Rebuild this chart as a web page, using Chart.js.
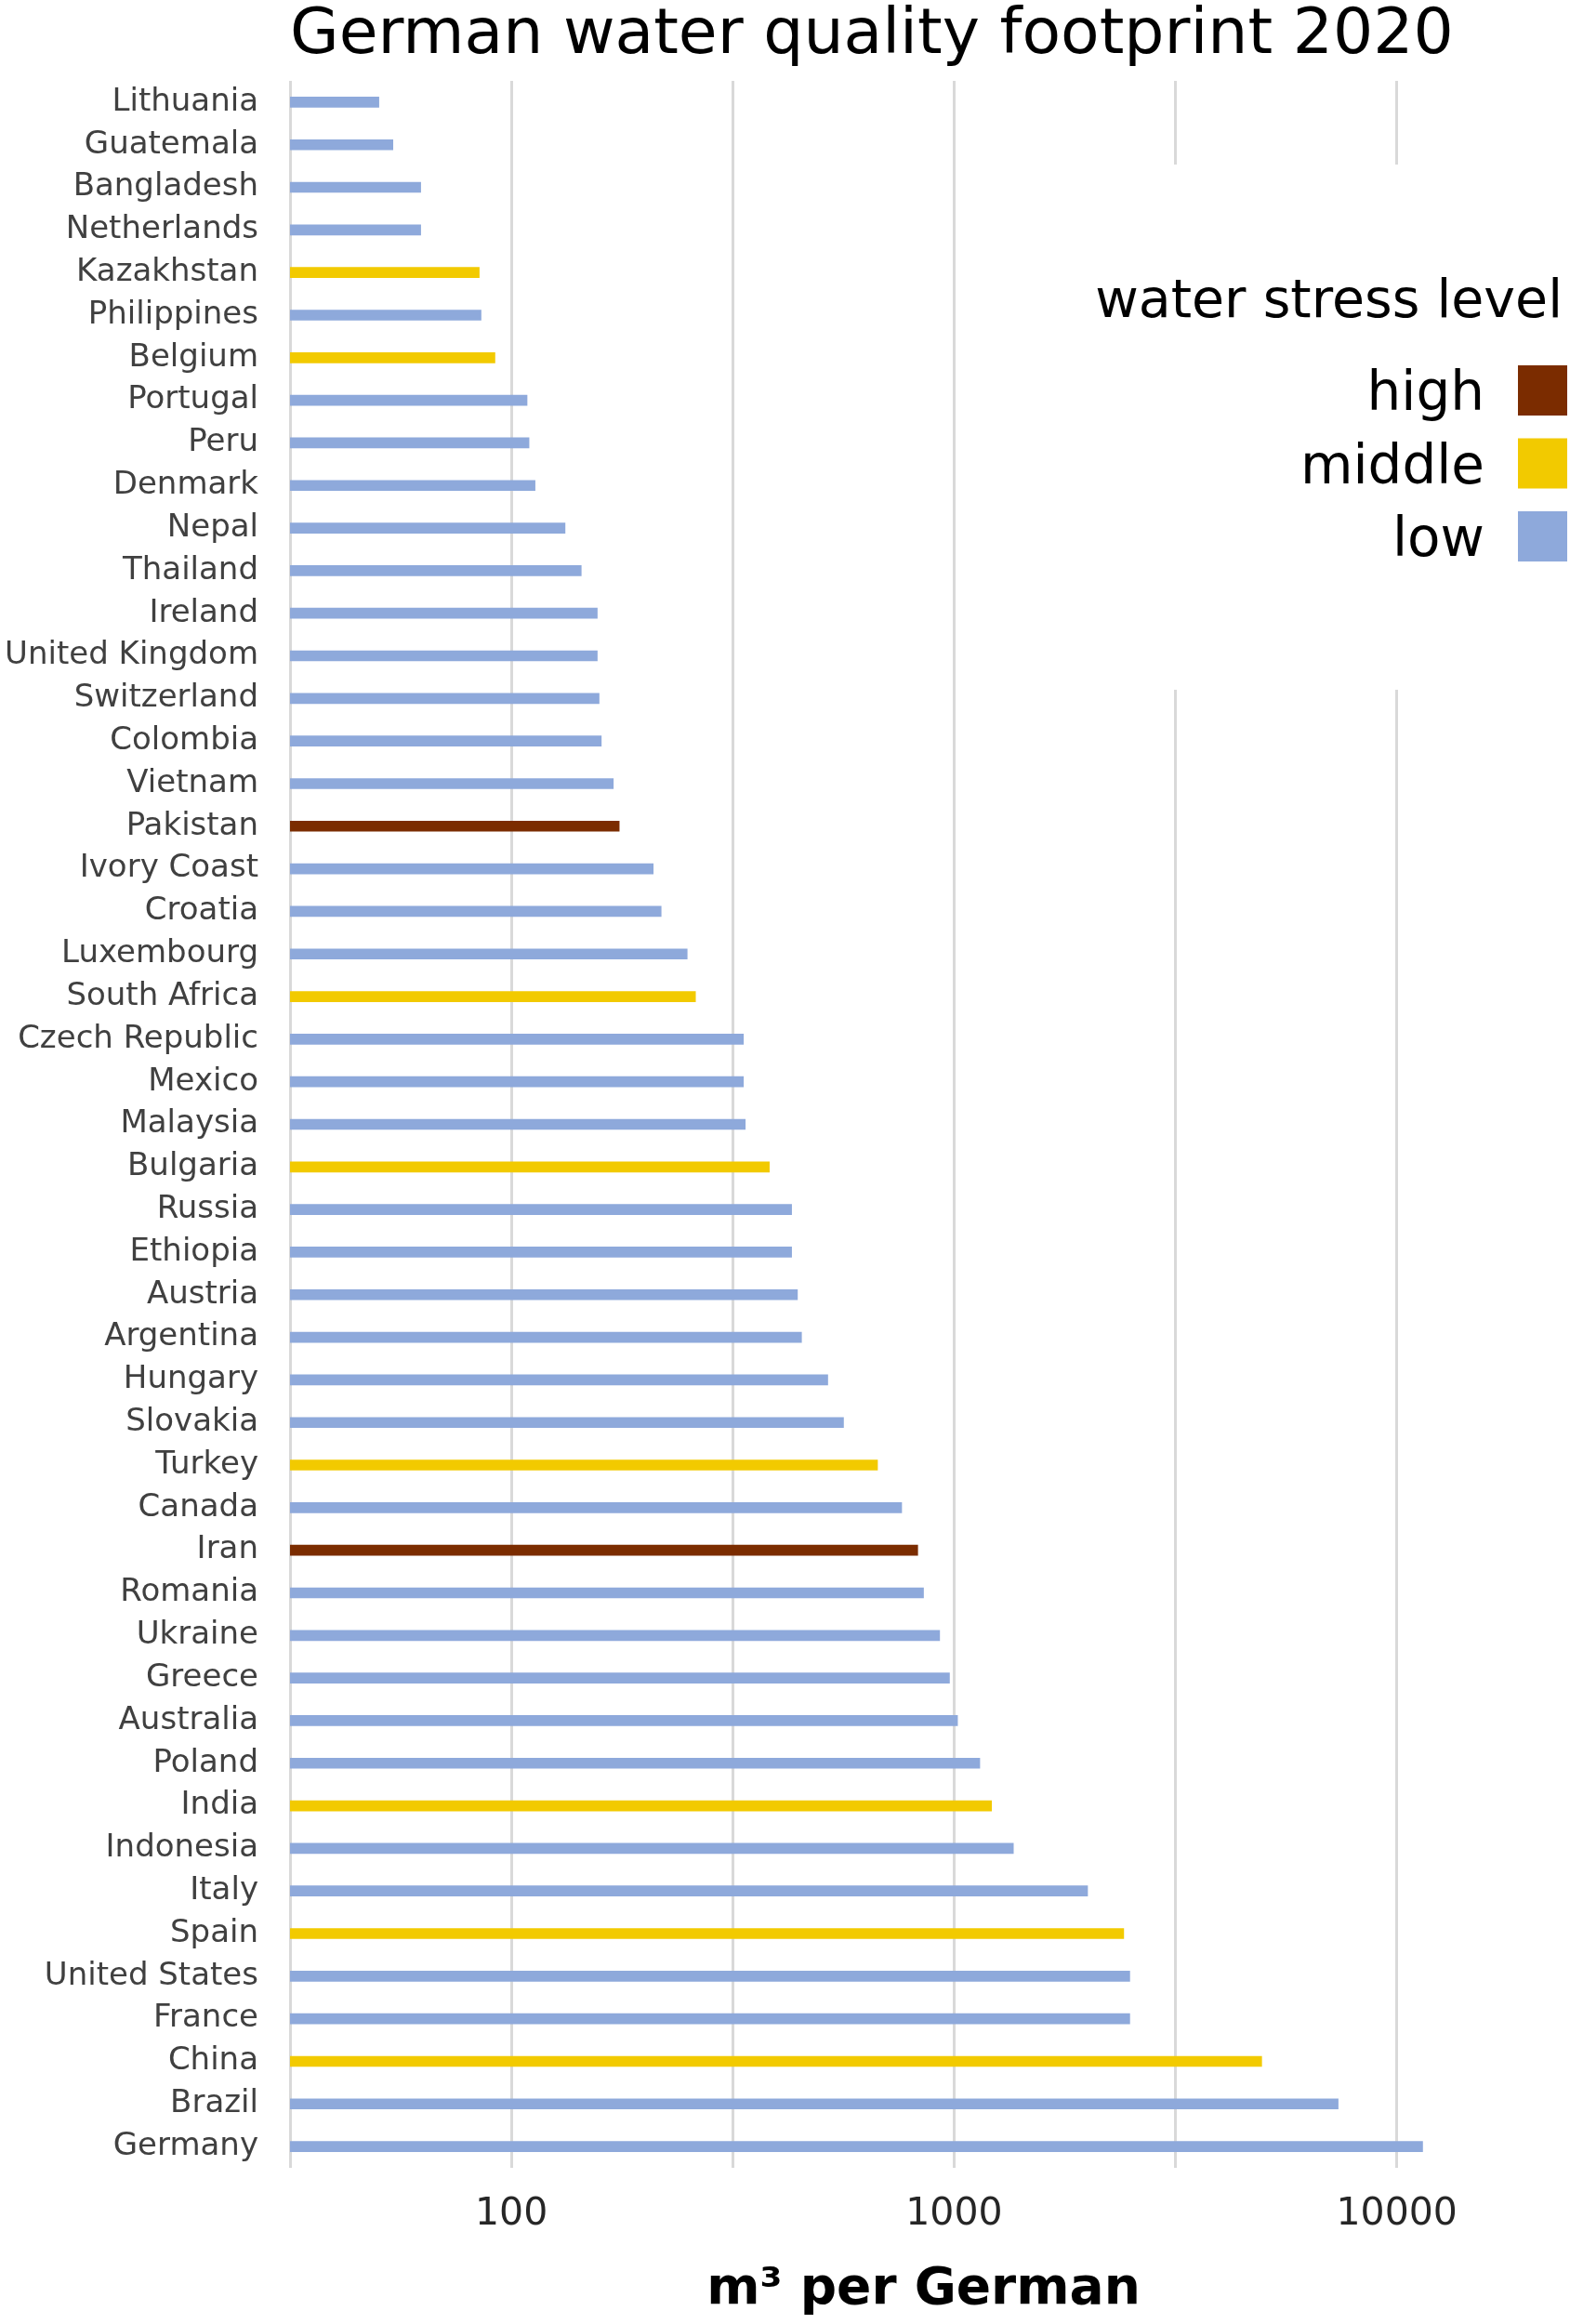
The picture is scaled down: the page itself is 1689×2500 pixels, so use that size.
<!DOCTYPE html>
<html>
<head>
<meta charset="utf-8">
<script src="https://cdn.jsdelivr.net/npm/chart.js@4.4.1/dist/chart.umd.min.js"></script>
<style>
html,body{margin:0;padding:0;background:#fff;}
#wrap{width:1689px;height:2500px;}
</style>
</head>
<body>
<div id="wrap"><canvas id="c" width="1689" height="2500"></canvas></div>
<script>
const countries = ['Lithuania','Guatemala','Bangladesh','Netherlands','Kazakhstan','Philippines','Belgium','Portugal','Peru','Denmark','Nepal','Thailand','Ireland','United Kingdom','Switzerland','Colombia','Vietnam','Pakistan','Ivory Coast','Croatia','Luxembourg','South Africa','Czech Republic','Mexico','Malaysia','Bulgaria','Russia','Ethiopia','Austria','Argentina','Hungary','Slovakia','Turkey','Canada','Iran','Romania','Ukraine','Greece','Australia','Poland','India','Indonesia','Italy','Spain','United States','France','China','Brazil','Germany'];
const footprint = [50.2,54.0,62.4,62.4,84.6,85.4,91.8,108.5,109.6,113.1,132.2,143.8,156.3,156.3,157.8,159.6,169.9,175.2,209.1,217.9,249.5,260.5,334.3,334.3,337.5,382.5,429.5,429.5,442.7,452.2,518.3,562.6,671.4,761.3,827.5,852.9,927.5,976.2,1017.9,1142.8,1215,1361,2002,2416,2493,2493,4951,7369,11435];
const stress = ['low','low','low','low','middle','low','middle','low','low','low','low','low','low','low','low','low','low','high','low','low','low','middle','low','low','low','middle','low','low','low','low','low','low','middle','low','high','low','low','low','low','low','middle','low','low','middle','low','low','middle','low','low'];
const levels = ['high','middle','low'];
const levelColors = ['#7B2C00','#F2CA00','#8EA9DB'];
const tickValues = [31.6228,100,316.228,1000,3162.28,10000];
const tickLabels = ['','100','','1000','','10000'];
const axisMin = 31.6228, axisMax = 23000;

const stressLegend = {
  id: 'stressLegend',
  afterDraw(chart) {
    const c = chart.ctx;
    c.save();
    c.fillStyle = '#ffffff';
    c.fillRect(1150, 177, 539, 565);
    c.fillStyle = '#000000';
    c.textAlign = 'right';
    c.textBaseline = 'alphabetic';
    c.font = '57px "DejaVu Sans"';
    c.fillText('water stress level', 1681, 341);
    c.font = '58px "DejaVu Sans"';
    chart.data.datasets.forEach((ds, i) => {
      const cy = 420 + i * 78.5;
      c.fillStyle = ds.backgroundColor;
      c.fillRect(1633, cy - 27, 53, 54);
      c.fillStyle = '#000000';
      c.fillText(ds.label, 1597, cy + 21);
    });
    c.restore();
  }
};

new Chart(document.getElementById('c'), {
  type: 'bar',
  data: {
    labels: countries,
    datasets: levels.map((lv, i) => ({
      label: lv,
      data: footprint.map((v, j) => stress[j] === lv ? v : null),
      backgroundColor: levelColors[i],
      barThickness: 11,
      grouped: false
    }))
  },
  options: {
    indexAxis: 'y',
    responsive: false,
    animation: false,
    devicePixelRatio: 1,
    layout: { padding: { left: 0, right: 14, top: 0, bottom: 0 } },
    scales: {
      x: {
        type: 'logarithmic',
        position: 'bottom',
        min: axisMin,
        max: axisMax,
        afterBuildTicks: s => { s.ticks = tickValues.map(v => ({ value: v })); },
        afterFit: s => { s.height = 168; },
        ticks: {
          autoSkip: false,
          maxRotation: 0,
          padding: 26,
          color: '#262626',
          font: { family: "'DejaVu Sans', sans-serif", size: 41 },
          callback: (v, i) => tickLabels[i]
        },
        grid: { color: '#D9D9D9', lineWidth: 3, drawTicks: false },
        border: { display: false },
        title: {
          display: true,
          text: 'm³ per German',
          color: '#000000',
          font: { family: "'DejaVu Sans', sans-serif", size: 55, weight: 'bold' },
          padding: { top: 0, bottom: 3 }
        }
      },
      y: {
        afterFit: s => { s.width = 312; },
        grid: { display: false, drawTicks: false },
        border: { display: false },
        ticks: {
          autoSkip: false,
          padding: 34,
          color: '#404040',
          font: { family: "'DejaVu Sans', sans-serif", size: 34 }
        }
      }
    },
    plugins: {
      legend: { display: false },
      tooltip: { enabled: false },
      title: {
        display: true,
        text: 'German water quality footprint 2020',
        align: 'start',
        fullSize: false,
        color: '#000000',
        font: { family: "'DejaVu Sans', sans-serif", size: 68, weight: 'normal', lineHeight: 1 },
        padding: { top: 5, bottom: 14 }
      }
    }
  },
  plugins: [stressLegend]
});
</script>
</body>
</html>
